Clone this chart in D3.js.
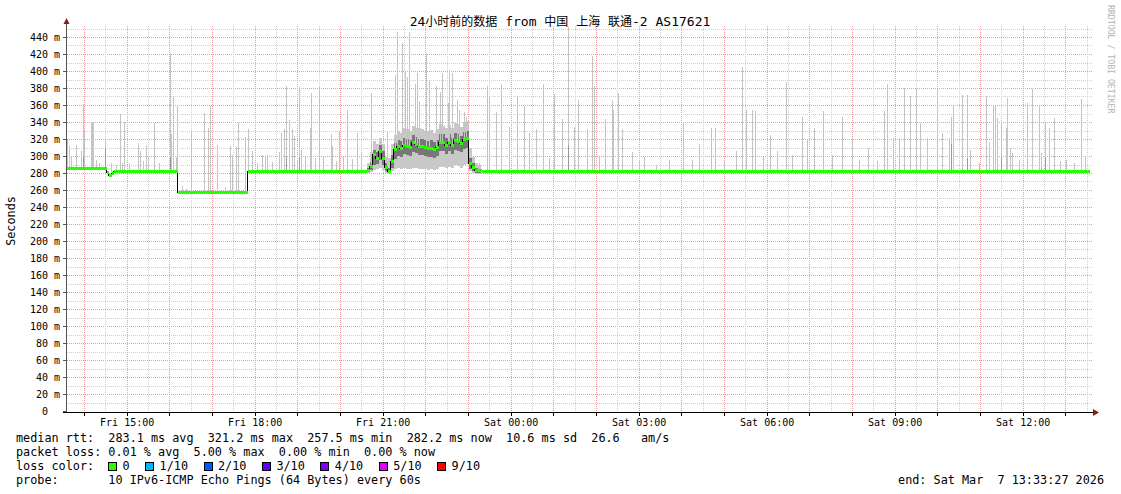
<!DOCTYPE html>
<html><head><meta charset="utf-8">
<script src="https://cdn.jsdelivr.net/npm/d3@7/dist/d3.min.js"></script>
<style>
html,body{margin:0;padding:0;background:#fff;}
svg{display:block;}
text{font-family:"DejaVu Sans Mono","Noto Sans CJK SC",monospace;fill:#000;}
</style></head><body>
<svg id="c" width="1121" height="494"></svg>
<script>
// ---------------- DATA ----------------
const titleParts = [["24",0],["小时前的数据",1],[" from ",0],["中国",1],[" ",0],["上海",1],[" ",0],["联通",1],["-2 AS17621",0]];
const yAxisTitle = "Seconds";
const startTime = new Date(2026, 2, 6, 13, 33, 27);   // Fri
const endTime   = new Date(2026, 2, 7, 13, 33, 27);   // Sat
const T0 = new Date(2026, 2, 6, 13, 0, 0);            // data minutes counted from Fri 13:00
const xTickLabels = ["Fri 15:00","Fri 18:00","Fri 21:00","Sat 00:00","Sat 03:00","Sat 06:00","Sat 09:00","Sat 12:00"];
const xTickTimes  = [[6,15],[6,18],[6,21],[7,0],[7,3],[7,6],[7,9],[7,12]];
const yTickValues = [0,20,40,60,80,100,120,140,160,180,200,220,240,260,280,300,320,340,360,380,400,420,440];

// median rtt steps: [minute since Fri 13:00, ms]
const medianSteps = [
 [33.45,286],[91.1,281],[93.9,278],[98.1,280],[101,282],[191,258],[289.4,282],
 [456.7,284],[461,288],[465.2,302],[469.4,298],[473.6,306],[477.8,298],[482,287],[486.3,282],
 [490.5,294],[494.7,308],[498.9,312],[503.1,309],[507.4,313],[511.6,312],[515.8,311],[520,316],
 [524.2,314],[528.5,312],[532.7,312],[536.9,311],[541.1,309],[545.3,310],[549.5,308],[553.8,311],
 [558,317],[562.2,317],[566.4,313],[570.6,317],[574.9,313],[579.1,319],[583.3,318],[587.5,315],
 [591.7,320],[595.9,321],[600.2,292],[604.4,287],[608.6,284],[612.8,283],[618.5,282]
];

// busy period smoke: [minute, min, top, innerLow, innerHigh]
const busySmoke = [
 [456.7,281,292,282,286],[461,282,305,284,293],[465.2,284,318,290,308],[469.4,285,315,291,305],
 [473.6,286,322,296,314],[477.8,284,315,290,306],[482,281,300,283,292],[486.3,280,298,281,287],
 [490.5,283,315,287,302],[494.7,285,325,297,316],[498.9,286,330,301,320],[503.1,285,328,299,318],
 [507.4,286,333,303,322],[511.6,285,332,302,321],[515.8,285,330,301,320],[520,287,336,305,325],
 [524.2,286,334,304,323],[528.5,285,333,302,321],[532.7,285,332,302,321],[536.9,285,330,301,320],
 [541.1,284,330,300,318],[545.3,285,331,300,320],[549.5,284,328,298,317],[553.8,285,332,301,320],
 [558,288,338,306,326],[562.2,288,336,306,326],[566.4,286,333,303,322],[570.6,288,337,306,326],
 [574.9,286,333,303,322],[579.1,290,340,308,328],[583.3,289,338,307,327],[587.5,287,335,305,324],
 [591.7,290,340,309,329],[595.9,291,342,310,330],[600.2,283,310,285,298],[604.4,281,300,283,292],
 [608.6,280,292,281,287],[612.8,280,290,281,285]
];

// single-interval smoke spikes: [minute, max ms, darker part top or null]
const spikes = [
 [36.3,319,null],[39.1,312,null],[41.9,300,null],[48.9,314,null],[56,306,null],[58.8,362,300],[60.2,330,null],
 [70,341,null],[71.4,341,null],[72.8,341,null],[77,296,null],[81.3,292,null],[89.7,321,310],[98.1,292,null],
 [105.2,290,null],[110.8,350,null],[113.6,292,null],[116.4,341,null],[123.5,292,null],[136.1,316,null],
 [138.9,306,null],[143.1,295,null],[147.4,313,null],[150.2,300,null],[158.6,339,null],[165.6,292,null],
 [181.1,422,300],[182.5,326,null],[185.3,371,null],[189.5,300,null],[191,361,null],
 [198,265,null],[203.6,262,null],[210.6,330,null],[228.9,351,null],[234.5,333,null],[237.4,359,null],
 [247.2,314,null],[258.5,264,null],[265.5,312,null],[268.3,302,null],[273.9,311,null],[276.7,340,null],
 [286.6,323,null],[290.8,332,null],[296.4,306,null],[303.5,292,null],[310.5,302,null],[314.7,300,null],
 [317.5,302,null],[324.5,293,null],[334.4,305,null],[337.2,328,null],[341.4,332,null],[344.2,383,300],
 [348.5,343,null],[352.7,332,null],[355.5,324,null],[359.7,296,null],[362.5,382,300],[365.3,308,null],
 [371,300,null],[378,333,null],[379.4,375,null],[385,298,null],[390.6,382,null],[396.3,300,null],
 [407.5,327,null],[408.9,312,null],[414.6,295,null],[418.8,330,null],[424.4,300,null],[430,355,null],
 [437,297,null],[444.1,328,null],[449.7,305,null],
 [463.8,375,null],[486.3,330,null],[497.5,396,null],[500.3,447,null],[507.4,434,null],[511.6,400,null],
 [514.4,394,null],[517.2,446,null],[525.6,385,null],[528.5,398,null],[531.3,365,null],[541.1,422,null],
 [545.3,390,null],[555.2,383,null],[560.8,376,null],[563.6,398,null],[572,363,null],[573.4,402,null],
 [577.7,398,null],[584.7,367,null],[587.5,355,null],[594.5,352,null],[597.4,347,null],
 [615.6,292,null],[626.9,383,null],[629.7,371,null],[639.5,352,null],[646.6,385,null],[657.8,335,null],
 [669.1,371,null],[678.9,359,null],[686,328,null],[695.8,332,null],[705.6,385,null],[714.1,298,null],
 [721.1,373,null],[732.4,344,null],[740.8,452,314],[749.2,335,null],[754.9,367,null],[767.5,332,null],
 [774.5,418,null],[777.4,383,null],[784.4,300,null],[792.8,344,null],[802.7,367,null],[804.1,355,null],
 [811.1,375,null],[816.7,332,null],[830.8,305,null],[840.6,296,null],[847.7,300,null],[864.5,290,null],
 [882.8,296,null],[902.5,341,null],[915.1,296,null],[925,315,null],[941.9,334,null],[947.5,334,null],
 [960.2,295,null],[977,307,null],[985.5,405,null],[991.1,355,null],[999.5,355,null],[1003.7,353,null],
 [1015,300,null],[1024.9,325,null],[1034.7,306,null],[1047.4,388,null],[1055.8,302,null],[1069.9,347,null],
 [1076.9,320,null],[1086.7,334,null],[1099.4,353,null],[1112.1,302,null],[1126.1,346,null],[1140.2,322,null],
 [1150,296,null],[1162.7,310,null],[1175.3,295,null],[1185.2,353,null],[1189.4,385,null],[1197.8,322,null],
 [1206.3,322,null],[1213.3,381,null],[1221.7,371,null],[1230.2,379,null],[1235.8,340,null],[1245.6,322,null],
 [1259.7,379,null],[1266.7,328,null],[1276.6,322,null],[1279.4,347,315],[1282.2,361,null],[1294.8,372,null],
 [1301.9,372,298],[1306.1,308,null],[1318.8,292,null],[1328.6,371,null],[1332.8,317,null],[1338.5,359,null],
 [1341.3,359,null],[1344.1,345,null],[1349.7,340,300],[1356.7,333,null],[1358.1,369,null],[1362.4,310,null],
 [1365.2,304,null],[1375,296,null],[1386.3,363,null],[1393.3,379,null],[1403.1,359,null],[1406,304,null],
 [1411.6,339,300],[1417.2,333,null],[1424.2,345,null],[1432.7,295,null],[1441.1,296,null],[1452.4,292,null],
 [1462.2,368,null],[1467.8,301,null]
];

const legendRows = [
 "median rtt:  283.1 ms avg  321.2 ms max  257.5 ms min  282.2 ms now  10.6 ms sd  26.6   am/s",
 "packet loss: 0.01 % avg  5.00 % max  0.00 % min  0.00 % now",
 "loss color:",
 "probe:       10 IPv6-ICMP Echo Pings (64 Bytes) every 60s"
];
const lossLabels = ["0","1/10","2/10","3/10","4/10","5/10","9/10"];
const lossColors = ["#26ff00","#00b8ff","#0059ff","#5e00ff","#7e00ff","#dd00ff","#ff0000"];
const endText = "end: Sat Mar  7 13:33:27 2026";
const creditText = "RRDTOOL / TOBI OETIKER";

// ---------------- CHART ----------------
const svg = d3.select("#c");
const toDate = m => new Date(T0.getTime() + m * 60000);
const x = d3.scaleTime().domain([startTime, endTime]).range([65.6, 1089.6]);
const y = d3.scaleLinear().domain([0, 440]).range([411.5, 37.5]);
const TOP = 26, BOT = 412, GRID_RIGHT = 1093;
const snap = v => Math.floor(v) + 0.5;

svg.append("rect").attr("width", 1121).attr("height", 494).attr("fill", "#fff");

svg.append("clipPath").attr("id", "pc").append("rect")
  .attr("x", 66).attr("y", TOP).attr("width", 1091 - 66).attr("height", BOT - TOP);

// grid
const grid = svg.append("g").attr("shape-rendering", "crispEdges");
for (let v = 10; v <= 450; v += 10) {
  const major = v % 20 === 0;
  grid.append("line").attr("x1", 67).attr("x2", GRID_RIGHT)
    .attr("y1", snap(y(v))).attr("y2", snap(y(v)))
    .attr("stroke", major ? "#f09c9c" : "#cfcfcf").attr("stroke-dasharray", "1,1");
}
const gridTimes = d3.timeMinute.every(30).range(startTime, endTime);
gridTimes.forEach(t => {
  const major = t.getMinutes() === 0;
  grid.append("line").attr("x1", snap(x(t))).attr("x2", snap(x(t)))
    .attr("y1", TOP).attr("y2", BOT)
    .attr("stroke", major ? "#f09c9c" : "#cfcfcf").attr("stroke-dasharray", "1,1");
});

// median lookup
const medianAt = m => {
  let v = medianSteps[0][1];
  for (const s of medianSteps) { if (s[0] <= m) v = s[1]; else break; }
  return v;
};

const data = svg.append("g").attr("clip-path", "url(#pc)").attr("shape-rendering", "crispEdges");

// busy smoke band
busySmoke.forEach((d, i) => {
  const next = i < busySmoke.length - 1 ? busySmoke[i + 1][0] : d[0] + 4.2;
  const x1 = Math.round(x(toDate(d[0]))), x2 = Math.round(x(toDate(next)));
  data.append("rect").attr("x", x1).attr("width", x2 - x1)
    .attr("y", y(d[2])).attr("height", y(d[1]) - y(d[2])).attr("fill", "#c8c8c8");
  data.append("rect").attr("x", x1).attr("width", x2 - x1)
    .attr("y", y(d[4])).attr("height", y(d[3]) - y(d[4])).attr("fill", "#777");
});

// spikes
spikes.forEach(d => {
  const base = medianAt(d[0]);
  const x1 = Math.floor(x(toDate(d[0])));
  const w = Math.max(1, Math.round(x(toDate(d[0] + 2.1)) - x(toDate(d[0]))));
  data.append("rect").attr("x", x1).attr("width", w)
    .attr("y", y(d[1])).attr("height", y(base) - y(d[1])).attr("fill", "#c4c4c4");
  if (d[2] !== null) {
    data.append("rect").attr("x", x1).attr("width", w)
      .attr("y", y(d[2])).attr("height", y(base) - y(d[2])).attr("fill", "#9a9a9a");
  }
});

// median black step line
const medPts = medianSteps.map(s => [toDate(s[0]), s[1]]).concat([[endTime, medianSteps[medianSteps.length - 1][1]]]);
data.append("path").datum(medPts)
  .attr("d", d3.line().x(d => x(d[0])).y(d => snap(y(d[1]))).curve(d3.curveStepAfter))
  .attr("fill", "none").attr("stroke", "#000").attr("stroke-width", 1);

// loss-coloured median (0 loss -> green)
medianSteps.forEach((s, i) => {
  const next = i < medianSteps.length - 1 ? toDate(medianSteps[i + 1][0]) : endTime;
  data.append("line").attr("x1", x(toDate(s[0]))).attr("x2", x(next))
    .attr("y1", snap(y(s[1]))).attr("y2", snap(y(s[1])))
    .attr("stroke", lossColors[0]).attr("stroke-width", 3);
});

// axes
const ax = svg.append("g").attr("shape-rendering", "crispEdges");
ax.append("line").attr("x1", 66.5).attr("x2", 66.5).attr("y1", 412).attr("y2", 23).attr("stroke", "#555");
ax.append("line").attr("x1", 63).attr("x2", 1094).attr("y1", 412.5).attr("y2", 412.5).attr("stroke", "#000");
yTickValues.forEach(v => {
  ax.append("line").attr("x1", 63).attr("x2", 66).attr("y1", snap(y(v))).attr("y2", snap(y(v))).attr("stroke", "#555");
});
gridTimes.filter(t => t.getMinutes() === 0).forEach(t => {
  ax.append("line").attr("x1", snap(x(t))).attr("x2", snap(x(t))).attr("y1", 413).attr("y2", 416).attr("stroke", "#000");
});
svg.append("path").attr("d", "M66.5,18 L63.5,24 L69.5,24 Z").attr("fill", "#8b1a1a");
svg.append("path").attr("d", "M1093,409 L1099,412.5 L1093,416 Z").attr("fill", "#8b1a1a");

// y labels
svg.append("g").selectAll("text").data(yTickValues).join("text")
  .attr("x", 60).attr("y", v => y(v) + 3.6)
  .attr("text-anchor", "end").attr("font-size", "10px").attr("xml:space", "preserve")
  .style("white-space", "pre")
  .text(v => v === 0 ? "0  " : v + " m");

// x labels
svg.append("g").selectAll("text").data(xTickLabels).join("text")
  .attr("x", (d, i) => x(new Date(2026, 2, xTickTimes[i][0], xTickTimes[i][1], 0, 0)))
  .attr("y", 425.5).attr("text-anchor", "middle").attr("font-size", "10px")
  .text(d => d);

// title (CJK runs slightly smaller, as in the reference)
const title = svg.append("text").attr("x", 560).attr("y", 26).attr("text-anchor", "middle")
  .attr("xml:space", "preserve").style("white-space", "pre");
titleParts.forEach(p => {
  title.append("tspan").attr("font-size", p[1] ? "12px" : "13px")
    .style("font-family", p[1] ? "'Noto Sans CJK SC'" : "'DejaVu Sans Mono'").text(p[0]);
});

// y axis title
svg.append("text").attr("transform", "translate(15,221) rotate(-90)")
  .attr("text-anchor", "middle").attr("font-size", "11.8px").text(yAxisTitle);

// credit
svg.append("text").attr("transform", "translate(1107.5,5) rotate(90)")
  .attr("font-size", "8.2px").style("fill", "#b4b4b4").text(creditText);

// legend
const rowY = [442, 456, 470, 484];
legendRows.forEach((r, i) => {
  svg.append("text").attr("x", 16).attr("y", rowY[i]).attr("font-size", "11.8px")
    .attr("xml:space", "preserve").style("white-space", "pre").text(r);
});
let lx = 108;
lossLabels.forEach((lab, i) => {
  svg.append("rect").attr("x", lx + 0.5).attr("y", 462.5).attr("width", 8).attr("height", 8)
    .attr("fill", lossColors[i]).attr("stroke", "#000").attr("shape-rendering", "crispEdges");
  svg.append("text").attr("x", lx + 14.5).attr("y", rowY[2]).attr("font-size", "11.8px").text(lab);
  lx = lx + 14.5 + lab.length * 7.1 + 15.5;
});
svg.append("text").attr("x", 1104).attr("y", rowY[3]).attr("text-anchor", "end")
  .attr("font-size", "11.8px").attr("xml:space", "preserve").style("white-space", "pre").text(endText);
</script>
</body></html>
